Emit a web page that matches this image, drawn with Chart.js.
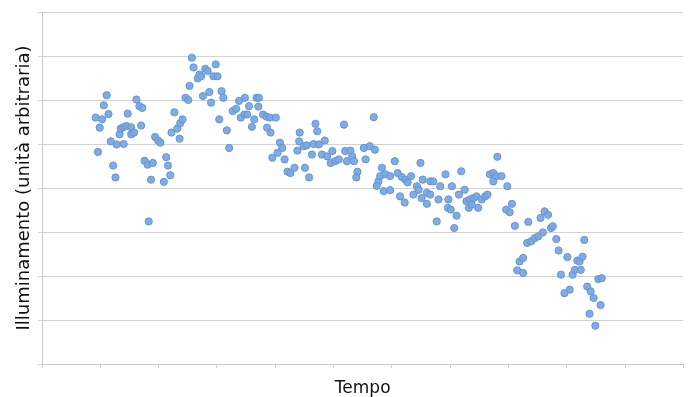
<!DOCTYPE html>
<html>
<head>
<meta charset="utf-8">
<script src="https://cdn.jsdelivr.net/npm/chart.js@4/dist/chart.umd.min.js"></script>
<style>
  html, body { margin: 0; padding: 0; background: #ffffff; }
  #c { display: block; }
</style>
</head>
<body>
<canvas id="c" width="688" height="397"></canvas>
<script>
// Tempo (unità arbitrarie) per ogni misura
const tempo = [
  9.2, 9.6, 9.9, 10.3, 10.6, 11.1, 11.4, 11.8, 12.2, 12.6, 12.8, 13.3, 13.5, 13.9, 14.0, 14.5, 14.7, 15.3, 15.3, 15.8,
  16.2, 16.7, 17.0, 17.2, 17.6, 18.1, 18.3, 18.7, 19.0, 19.4, 19.9, 20.3, 20.9, 21.3, 21.6, 22.0, 22.2, 22.7, 23.2, 23.6,
  23.7, 24.1, 24.6, 25.1, 25.3, 25.7, 26.0, 26.7, 27.0, 27.3, 27.6, 28.0, 28.4, 28.7, 29.0, 29.4, 29.8, 30.1, 30.4, 30.8,
  31.1, 31.7, 32.1, 32.7, 33.3, 33.8, 34.1, 34.7, 34.8, 35.2, 35.5, 36.0, 36.4, 36.8, 37.2, 37.1, 37.9, 38.5, 39.1, 40.1,
  38.6, 39.2, 39.5, 40.4, 40.8, 41.2, 41.6, 42.1, 42.6, 43.3, 43.8, 44.1, 44.2, 44.9, 45.4, 45.1, 45.8, 46.3, 46.9, 47.2,
  46.6, 47.5, 48.5, 48.0, 48.9, 49.8, 49.5, 50.3, 50.9, 51.8, 52.0, 52.9, 53.2, 53.5, 52.3, 54.1, 53.9, 55.2, 56.2, 57.1,
  55.5, 56.9, 58.3, 57.7, 58.0, 57.4, 58.9, 58.6, 59.7, 59.7, 60.5, 61.0, 61.4, 61.7, 62.3, 62.2, 62.7, 63.3, 63.7, 64.3,
  64.6, 64.9, 65.3, 65.1, 66.0, 66.0, 66.6, 67.1, 66.6, 67.7, 68.0, 68.3, 69.2, 69.7, 69.6, 70.1, 70.3, 70.7, 71.1, 71.5,
  71.9, 72.5, 72.8, 73.2, 73.4, 73.7, 74.0, 74.5, 74.8, 75.4, 76.0, 76.4, 76.8, 77.4, 77.9, 78.8, 77.4, 78.1, 79.8, 79.6,
  80.6, 80.2, 81.1, 81.5, 81.9, 82.5, 82.5, 83.4, 83.2, 83.9, 84.5, 85.1, 85.5, 85.9, 86.2, 86.8, 87.3, 87.6, 88.2, 88.6,
  89.0, 90.1, 89.6, 90.5, 91.0, 91.4, 91.8, 92.2, 92.4, 92.7, 93.0, 93.5, 94.1, 93.9, 94.6, 94.9, 95.4, 96.0, 95.8
];
// Illuminamento (unità arbitraria) per ogni misura
const illuminamento = [
  56.0, 48.2, 53.7, 55.6, 58.8, 61.1, 56.8, 50.6, 45.1, 42.4, 49.9, 52.2, 53.5, 53.8, 50.0, 54.1, 56.9, 53.8, 52.2, 52.6,
  60.1, 58.6, 54.2, 58.2, 46.2, 45.3, 32.4, 41.9, 45.7, 51.6, 50.8, 50.3, 41.4, 47.0, 45.1, 42.9, 52.6, 57.2, 53.5, 51.2,
  54.7, 55.6, 60.5, 60.0, 63.2, 69.6, 67.4, 64.9, 65.8, 65.4, 60.9, 67.1, 66.6, 61.8, 59.4, 65.4, 68.1, 65.4, 55.6, 62.0,
  60.5, 53.1, 49.1, 57.5, 58.0, 59.8, 56.0, 56.7, 60.5, 56.7, 58.6, 53.9, 55.6, 60.5, 60.5, 58.5, 56.7, 56.2, 56.0, 56.0,
  53.7, 52.6, 46.9, 48.0, 50.3, 49.1, 46.5, 43.7, 43.4, 44.6, 48.5, 50.6, 52.6, 49.5, 49.7, 44.6, 42.4, 47.6, 54.6, 52.9,
  50.0, 49.9, 50.8, 47.6, 47.2, 48.4, 45.7, 46.1, 46.5, 54.4, 48.4, 48.5, 47.2, 46.1, 46.1, 43.7, 42.4, 49.1, 49.5, 48.7,
  46.5, 56.1, 44.6, 41.5, 42.7, 40.5, 43.1, 39.3, 42.7, 39.5, 46.1, 43.4, 38.1, 42.5, 41.9, 36.7, 41.3, 42.7, 38.5, 40.4,
  39.6, 45.7, 41.9, 37.7, 38.9, 36.4, 41.5, 41.5, 38.5, 32.4, 37.4, 40.4, 43.1, 37.4, 35.5, 35.1, 40.4, 30.9, 33.7, 38.5,
  43.8, 39.6, 37.0, 35.5, 37.4, 36.2, 37.7, 38.1, 35.5, 37.4, 38.1, 38.5, 43.1, 43.4, 42.7, 42.7, 41.5, 47.1, 40.4, 35.1,
  36.4, 34.5, 31.4, 21.3, 23.3, 24.1, 20.7, 32.3, 27.5, 27.9, 28.6, 29.0, 33.2, 29.9, 34.7, 33.9, 30.9, 31.3, 28.4, 25.8,
  20.3, 24.3, 16.1, 16.9, 20.3, 21.4, 23.5, 23.3, 21.4, 24.4, 28.2, 17.6, 16.5, 11.4, 15.0, 8.7, 19.3, 19.5, 13.4
];
const xTitle = 'Tempo';
const yTitle = 'Illuminamento (unità arbitraria)';

const points = tempo.map((t, i) => ({ x: t, y: illuminamento[i] }));

new Chart(document.getElementById('c').getContext('2d'), {
  type: 'scatter',
  data: {
    datasets: [{
      data: points,
      pointRadius: 3.6,
      pointHoverRadius: 3.6,
      backgroundColor: 'rgba(122,168,226,0.95)',
      borderColor: 'rgba(98,148,214,1)',
      borderWidth: 1
    }]
  },
  options: {
    responsive: false,
    animation: false,
    layout: { padding: { top: 12, right: 2, left: 0, bottom: 0 } },
    plugins: { legend: { display: false }, tooltip: { enabled: false } },
    scales: {
      x: {
        type: 'linear',
        min: 0, max: 110,
        ticks: { display: false, stepSize: 10, autoSkip: false },
        grid: { drawOnChartArea: false, drawTicks: true, tickLength: 4, color: '#d2d2d2' },
        border: { color: '#c8c8c8' },
        title: { display: true, text: xTitle, color: '#111111',
                 font: { family: 'DejaVu Sans', size: 17 }, padding: { top: 0, bottom: -2 } },
        afterFit(s) { s.height = 33; }
      },
      y: {
        type: 'linear',
        min: 0, max: 80,
        ticks: { display: false, stepSize: 10 },
        grid: { color: '#d2d2d2', drawTicks: true, tickLength: 4 },
        border: { color: '#c8c8c8' },
        title: { display: true, text: yTitle, color: '#111111',
                 font: { family: 'DejaVu Sans', size: 18 }, padding: { top: 14, bottom: 0 } },
        afterFit(s) { s.width = 42; }
      }
    }
  }
});
</script>
</body>
</html>
